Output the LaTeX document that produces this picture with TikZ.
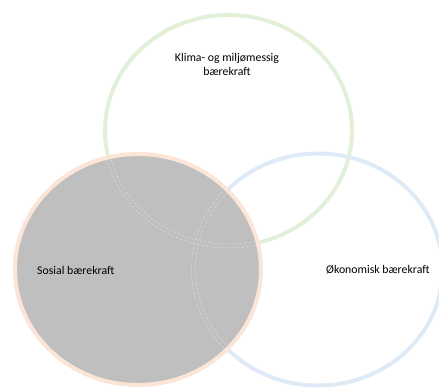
\documentclass[tikz,border=0pt]{standalone}
\usepackage{fontspec}
\setmainfont{Carlito}
\definecolor{ringgreen}{HTML}{E2F0D9}
\definecolor{ringorange}{HTML}{FBE5D6}
\definecolor{ringblue}{HTML}{DEEBF7}
\definecolor{fillgray}{HTML}{BFBFBF}
\definecolor{ghost}{HTML}{DCDCDC}
\begin{document}
\begin{tikzpicture}[x=1pt,y=-1pt,
  ring/.style={line width=4pt},
  ghostline/.style={ghost, line width=0.5pt, dash pattern=on 2.5pt off 2pt},
  lbl/.style={inner sep=0pt, font=\fontsize{11.8}{14}\selectfont, text=black}]
\useasboundingbox (0,0) rectangle (439,388);
\coordinate (gc) at (228.5,130.5);
\coordinate (bc) at (318,269.5);
\coordinate (oc) at (138,269.5);
\draw[ring, ringgreen] (gc) ellipse [x radius=123.5, y radius=115.5];
\draw[ring, ringblue] (bc) ellipse [x radius=124.5, y radius=116];
\draw[ring, ringorange, fill=fillgray] (oc) ellipse [x radius=123, y radius=115.5];
\begin{scope}
  \clip (oc) ellipse [x radius=121, y radius=113.5];
  \draw[ghostline] (gc) ellipse [x radius=125.5, y radius=117.5];
  \draw[ghostline] (gc) ellipse [x radius=121.5, y radius=113.5];
  \draw[ghostline] (bc) ellipse [x radius=126.5, y radius=118];
  \draw[ghostline] (bc) ellipse [x radius=122.5, y radius=114];
\end{scope}
\node[lbl, align=center] (klima) at (227,64) {Klima- og miljømessig\\bærekraft};
\node[lbl, anchor=west] (sosial) at (37,270) {Sosial bærekraft};
\node[lbl, anchor=west] (okonomisk) at (326,270) {Økonomisk bærekraft};
\end{tikzpicture}
\end{document}
